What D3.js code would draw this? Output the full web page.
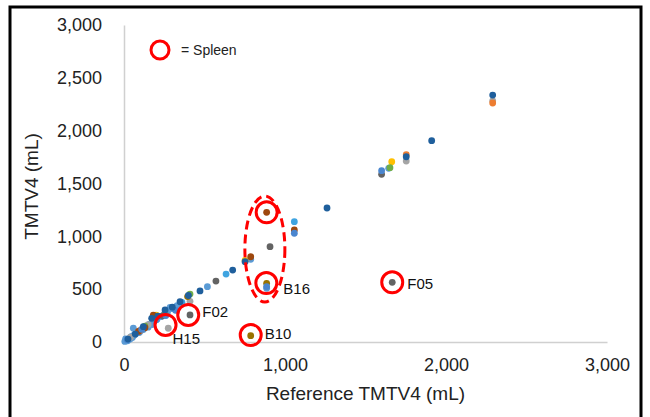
<!DOCTYPE html>
<html><head><meta charset="utf-8">
<script src="https://cdn.jsdelivr.net/npm/d3@7"></script>
<style>body{margin:0;background:#fff}svg{display:block}text{font-family:"Liberation Sans",Arial,sans-serif}</style>
</head><body>
<script>
// ---- data ----
const xTicks = [0, 1000, 2000, 3000];
const yTicks = [0, 500, 1000, 1500, 2000, 2500, 3000];
const xTitle = "Reference TMTV4 (mL)";
const yTitle = "TMTV4 (mL)";

const darkBlue = [[2290,2337],[1911,1905],[1753,1753],[1261,1268],[752,760],[675,681],[472,483],[348,381],[255,303],[172,224],[120,145],[70,75],[25,28],[400,440],[210,245],[300,330]];
const gray = [[2290,2282],[1753,1713],[275,130],[410,385],[150,165],[40,45]];
const orange = [[2290,2262],[1753,1773],[190,235],[100,110]];
const yellow = [[1663,1706],[752,772],[200,255]];
const green = [[1652,1650],[410,454],[255,265],[130,150]];
const lightBlue = [[1644,1644],[787,783],[886,508],[518,524],[286,328],[58,130],[89,97],[5,5],[15,18],[30,32],[45,50],[60,62],[80,85],[105,108],[140,148],[160,170],[185,195],[230,240],[250,262],[300,315],[330,345],[10,30],[22,12],[38,28],[52,42],[68,70],[95,90],[120,118],[150,140],[175,165],[205,215],[270,285]];
const skyBlue = [[1058,1139],[634,643],[360,375]];
const midBlue = [[1600,1621],[1058,1029],[886,525],[200,210],[110,120],[20,22],[260,250],[320,300]];
const darkGray = [[1600,1587],[907,902],[1666,565],[410,256],[571,577],[240,248]];
const brown = [[886,1227],[1058,1060],[787,807],[182,255],[130,135],[90,100]];
const darkGold = [[787,60],[886,555],[395,430]];

const series = [
  {name:"S1", color:"#5B9BD5", pts:lightBlue},
  {name:"S2", color:"#A5A5A5", pts:gray},
  {name:"S3", color:"#ED7D31", pts:orange},
  {name:"S4", color:"#FFC000", pts:yellow},
  {name:"S5", color:"#70AD47", pts:green},
  {name:"S6", color:"#9E480E", pts:brown},
  {name:"S7", color:"#997300", pts:darkGold},
  {name:"S8", color:"#636363", pts:darkGray},
  {name:"S9", color:"#3FA4E0", pts:skyBlue},
  {name:"S10", color:"#4A86CF", pts:midBlue},
  {name:"S11", color:"#1F5F9C", pts:darkBlue}
];

// spleen annotations (circle centre in data units, label)
const spleen = [
  {x:886, y:1227, label:""},
  {x:884, y:558, label:"B16"},
  {x:1666, y:565, label:"F05"},
  {x:787, y:66, label:"B10"},
  {x:258, y:161, label:"H15"},
  {x:399, y:256, label:"F02"}
];
const ellipseCenter = {x:875, y:880};

// ---- drawing ----
const W = 650, H = 417;
const svg = d3.select("body").append("svg").attr("width", W).attr("height", H);

svg.append("rect").attr("x", 10).attr("y", 7).attr("width", 631).attr("height", 420)
  .attr("fill", "none").attr("stroke", "#000").attr("stroke-width", 3);

const x = d3.scaleLinear().domain([0, 3000]).range([124, 607]);
const y = d3.scaleLinear().domain([0, 3000]).range([342, 25]);

const xAxis = svg.append("g").attr("transform", `translate(0,${y(0)})`)
  .call(d3.axisBottom(x).tickValues(xTicks).tickSize(0).tickPadding(16).tickFormat(d3.format(",")));
const yAxis = svg.append("g").attr("transform", `translate(${x(0)},0)`)
  .call(d3.axisLeft(y).tickValues(yTicks).tickSize(0).tickPadding(22).tickFormat(d3.format(",")));
[xAxis, yAxis].forEach(a => {
  a.select(".domain").attr("stroke", "#d0d0d0").attr("stroke-width", 1.5);
  a.selectAll("text").attr("font-size", 18).attr("fill", "#222").attr("font-family", "Liberation Sans, Arial, sans-serif");
});

svg.append("text").attr("x", (x(0)+x(3000))/2).attr("y", 400).attr("text-anchor", "middle")
  .attr("font-size", 19).attr("fill", "#222").text(xTitle);
svg.append("text").attr("transform", `translate(38,${(y(0)+y(3000))/2 + 3}) rotate(-90)`)
  .attr("text-anchor", "middle").attr("font-size", 19).attr("fill", "#222").text(yTitle);

// points
series.forEach(s => {
  svg.append("g").selectAll("circle").data(s.pts).join("circle")
    .attr("cx", d => x(d[0])).attr("cy", d => y(d[1])).attr("r", 3.4)
    .attr("fill", s.color);
});

// spleen circles
svg.append("g").selectAll("circle").data(spleen).join("circle")
  .attr("cx", d => x(d.x)).attr("cy", d => y(d.y)).attr("r", 10.5)
  .attr("fill", "none").attr("stroke", "#FF0000").attr("stroke-width", 3);

svg.append("ellipse").attr("cx", x(ellipseCenter.x)).attr("cy", y(ellipseCenter.y))
  .attr("rx", 20).attr("ry", 53).attr("fill", "none").attr("stroke", "#FF0000")
  .attr("stroke-width", 3).attr("stroke-dasharray", "9,5");

const labelOffsets = {B16:[17,6], F05:[15,1], B10:[14,-1], H15:[7,14], F02:[14,-3]};
svg.append("g").selectAll("text").data(spleen.filter(d => d.label)).join("text")
  .attr("x", d => x(d.x) + labelOffsets[d.label][0])
  .attr("y", d => y(d.y) + labelOffsets[d.label][1])
  .attr("dy", "0.35em").attr("font-size", 15).attr("fill", "#111").text(d => d.label);

// legend
svg.append("circle").attr("cx", 160).attr("cy", 50).attr("r", 9)
  .attr("fill", "none").attr("stroke", "#FF0000").attr("stroke-width", 3);
svg.append("text").attr("x", 181).attr("y", 50).attr("dy", "0.35em")
  .attr("font-size", 14).attr("fill", "#222").text("= Spleen");
</script>
</body></html>
